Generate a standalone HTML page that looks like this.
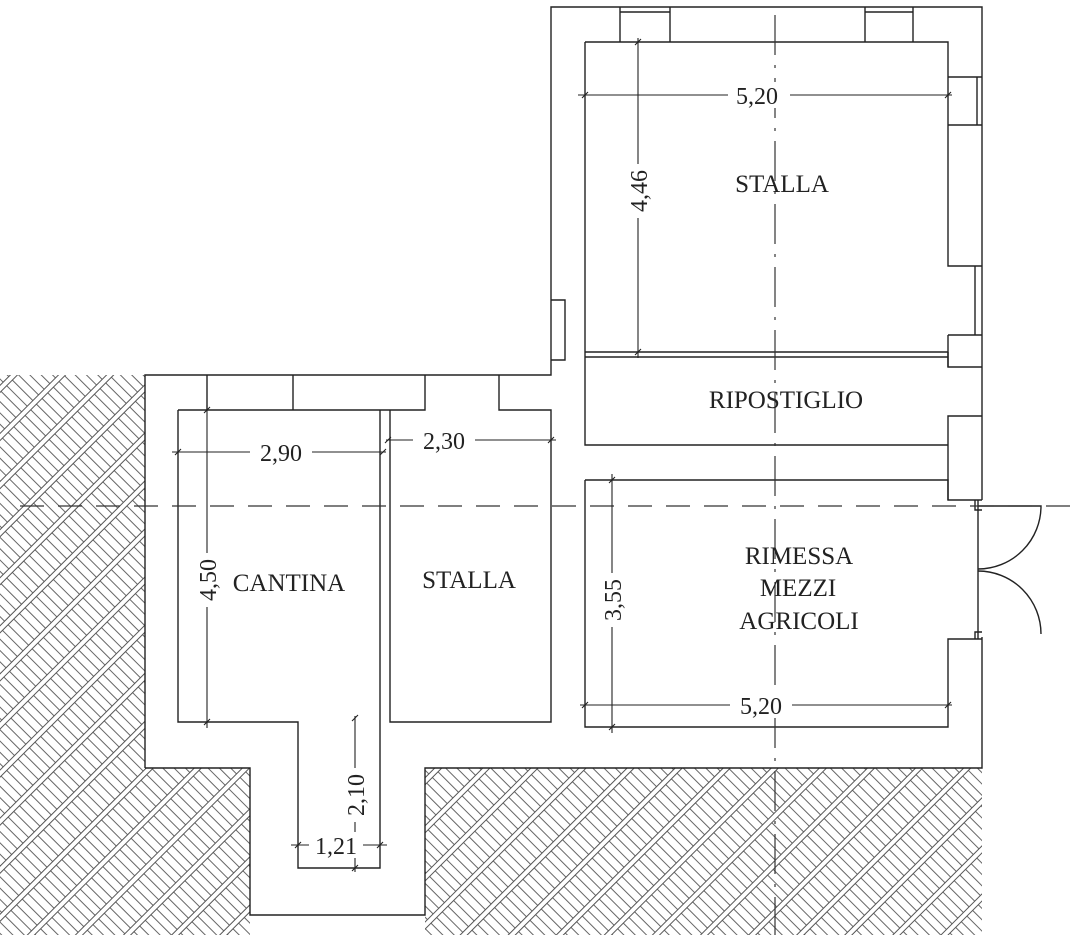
<!DOCTYPE html>
<html><head><meta charset="utf-8"><style>
html,body{margin:0;padding:0;background:#fff;}
svg{display:block;}
text{font-family:"Liberation Serif",serif;fill:#222;}
</style></head><body>
<svg width="1080" height="935" viewBox="0 0 1080 935" xmlns="http://www.w3.org/2000/svg">
<defs>
<pattern id="h" width="8" height="34" patternUnits="userSpaceOnUse" patternTransform="rotate(-45)">
<line x1="0" y1="0.5" x2="8" y2="0.5" stroke="#555" stroke-width="1"/>
<line x1="0" y1="5.5" x2="8" y2="5.5" stroke="#555" stroke-width="1"/>
<line x1="4" y1="6" x2="4" y2="34" stroke="#666" stroke-width="1"/>
</pattern>
</defs>
<path d="M0 375 H145 V768 H250 V935 H0 Z" fill="url(#h)"/>
<path d="M425 768 H982 V935 H425 Z" fill="url(#h)"/>
<g fill="none" stroke="#222" stroke-width="1.4">
<path d="M145 768 V375 H551 V7 H982 V500"/>
<path d="M982 637 V768 H425 V915 H250 V768 H145"/>
<path d="M178 410 H293 V375 M293 410 H425 V375"/>
<path d="M178 410 V722 H298 V868 H380 V410"/>
<path d="M390 410 V722 H551 V410 H499 V375"/>
<path d="M207 375 V410"/>
<path d="M551 300 H565 V360 H551"/>
<path d="M585 42 H948 V77 H982 M948 77 V125 H982 M977 77 V125 M948 125 V266 H982 M975 266 V335 M948 335 H982 M948 335 V367 H982"/>
<path d="M620 7 V42 M670 7 V42 M620 12 H670 M865 7 V42 M913 7 V42 M865 12 H913"/>
<path d="M585 42 V445 H948 V416 H982 M948 416 V500 H982"/>
<path d="M585 352 H948 M585 357 H948 M948 352 V367"/>
<path d="M585 480 H948 V500"/>
<path d="M585 480 V727 H948 V639 H982"/>
<path d="M975 500 V510 H982 M975 639 V632 H982"/>
<path d="M978 500 V639"/>
<path d="M978 506 H1041 A63 63 0 0 1 978 569"/>
<path d="M978 571 A63 63 0 0 1 1041 634"/>
</g>
<g stroke="#333" stroke-width="1.2" fill="none">
<line x1="20" y1="506" x2="1070" y2="506" stroke-dasharray="24 14"/>
<line x1="775" y1="15" x2="775" y2="935" stroke-dasharray="40 10 3 10"/>
</g>
<g stroke="#222" stroke-width="1.1" fill="none">
<line x1="578" y1="95" x2="952" y2="95"/>
<line x1="638" y1="38" x2="638" y2="358"/>
<line x1="172" y1="452" x2="386" y2="452"/>
<line x1="386" y1="440" x2="556" y2="440"/>
<line x1="207" y1="405" x2="207" y2="728"/>
<line x1="355" y1="716" x2="355" y2="872"/>
<line x1="291" y1="845" x2="387" y2="845"/>
<line x1="612" y1="474" x2="612" y2="733"/>
<line x1="580" y1="705" x2="952" y2="705"/>
<path d="M582 98 l6 -6 M945 98 l6 -6 M635 45 l6 -6 M635 355 l6 -6 M175 455 l6 -6 M380 455 l6 -6 M385 443 l6 -6 M548 443 l6 -6 M204 413 l6 -6 M204 725 l6 -6 M352 721 l6 -6 M352 871 l6 -6 M295 848 l6 -6 M377 848 l6 -6 M609 483 l6 -6 M609 730 l6 -6 M582 708 l6 -6 M945 708 l6 -6"/>
</g>
<g font-size="24">
<rect x="728" y="82" width="62" height="26" fill="#fff"/>
<text x="757" y="104" text-anchor="middle">5,20</text>
<rect x="625" y="164" width="26" height="54" fill="#fff"/>
<text transform="translate(647,191) rotate(-90)" text-anchor="middle">4,46</text>
<rect x="250" y="439" width="62" height="26" fill="#fff"/>
<text x="281" y="461" text-anchor="middle">2,90</text>
<rect x="413" y="427" width="62" height="26" fill="#fff"/>
<text x="444" y="449" text-anchor="middle">2,30</text>
<rect x="194" y="553" width="26" height="54" fill="#fff"/>
<text transform="translate(216,580) rotate(-90)" text-anchor="middle">4,50</text>
<rect x="342" y="768" width="26" height="54" fill="#fff"/>
<text transform="translate(364,795) rotate(-90)" text-anchor="middle">2,10</text>
<rect x="309" y="832" width="54" height="26" fill="#fff"/>
<text x="336" y="854" text-anchor="middle">1,21</text>
<rect x="599" y="573" width="26" height="54" fill="#fff"/>
<text transform="translate(621,600) rotate(-90)" text-anchor="middle">3,55</text>
<rect x="730" y="692" width="62" height="26" fill="#fff"/>
<text x="761" y="714" text-anchor="middle">5,20</text>
</g>
<g font-size="25" text-anchor="middle">
<text x="782" y="192">STALLA</text>
<text x="786" y="408">RIPOSTIGLIO</text>
<text x="289" y="591">CANTINA</text>
<text x="469" y="588">STALLA</text>
<text x="799" y="564">RIMESSA</text>
<text x="798" y="596">MEZZI</text>
<text x="799" y="629">AGRICOLI</text>
</g>
</svg>
</body></html>
